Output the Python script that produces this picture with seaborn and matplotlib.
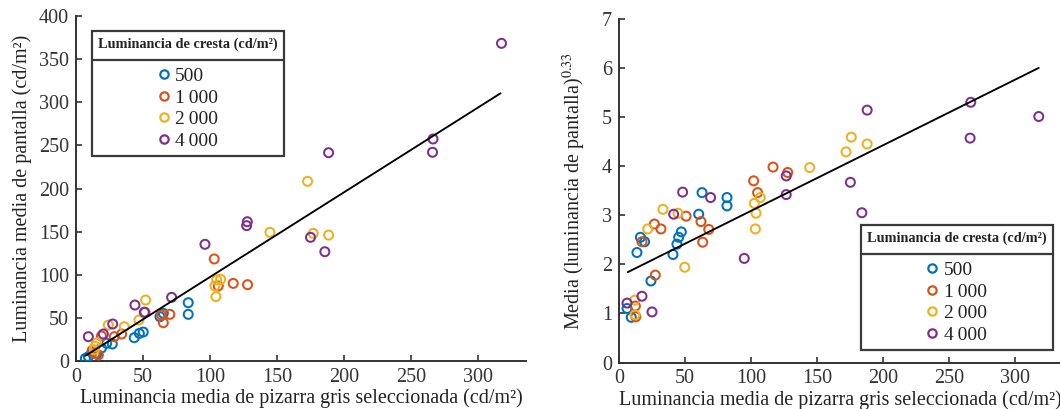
import numpy as np
import pandas as pd
import matplotlib
matplotlib.use("Agg")
import matplotlib.pyplot as plt
import seaborn as sns
from matplotlib.lines import Line2D

# ---------------- data ----------------
levels = ["500", "1\u2009000", "2\u2009000", "4\u2009000"]
colors = ["#0072BD", "#D95319", "#EDB120", "#7E2F8E"]

x_ticks = [0, 50, 100, 150, 200, 250, 300]
left_y_ticks = [0, 50, 100, 150, 200, 250, 300, 350, 400]
right_y_ticks = [0, 1, 2, 3, 4, 5, 6, 7]

# Left panel: mean screen luminance (cd/m2)
L_500_x = [7, 9.2, 12, 15.4, 19, 22.9, 27.1, 43.5, 47.3, 50.2, 62.7, 65.2, 83.8, 83.8]
L_500_y = [3, 5, 10, 8, 15, 20.5, 19.7, 27, 32, 33.6, 51.4, 55.3, 54.1, 67.6]
L_1000_x = [12, 14.2, 16.7, 19, 28.6, 34.1, 51.5, 63.9, 65.2, 70.1, 103.2, 106.2, 117.4, 128.1]
L_1000_y = [12, 8.9, 7, 29, 28.2, 31.3, 56.5, 53.3, 44.4, 54.1, 118.3, 87, 90, 88.5]
L_2000_x = [13.7, 14.2, 15.4, 24.1, 36, 47, 52, 103.7, 104.5, 105, 108, 144.8, 172.9, 177.1, 188.6]
L_2000_y = [13, 17, 21, 41.7, 39.8, 47.5, 70.7, 87, 74.6, 94, 94.7, 149.2, 208.3, 148, 146]
L_4000_x = [9.2, 20.4, 27.4, 44, 51, 71.4, 96.3, 127.4, 127.9, 175.1, 185.8, 188.6, 266.2, 266.6, 317.7]
L_4000_y = [28.2, 31.3, 42.9, 64.9, 56.5, 73.8, 135.3, 156.9, 161.5, 143.4, 126.7, 241.5, 242, 257.4, 368.3]
L_fit_x = [7, 317]
L_fit_y = [6, 310.4]

# Right panel: mean (screen luminance)^0.33
R_500_x = [6.1, 9.3, 13.6, 16.2, 19.4, 24.2, 40.9, 43.9, 45.2, 47.2, 60.4, 62.9, 81.8, 81.8]
R_500_y = [1.10, 0.92, 2.24, 2.55, 2.46, 1.66, 2.20, 2.41, 2.55, 2.66, 3.02, 3.46, 3.36, 3.19]
R_1000_x = [12.4, 12.7, 17.4, 26.8, 31.8, 27.5, 50.8, 62.1, 63.4, 68, 102, 105, 116.7, 127.8]
R_1000_y = [1.15, 0.93, 2.46, 2.82, 2.72, 1.78, 2.98, 2.87, 2.45, 2.71, 3.70, 3.46, 3.98, 3.87]
R_2000_x = [11.9, 12.1, 21.7, 33.3, 44.7, 49.8, 102.5, 107, 103.8, 103.3, 144.5, 172, 176, 188]
R_2000_y = [1.27, 0.97, 2.72, 3.12, 3.04, 1.94, 3.24, 3.36, 3.04, 2.72, 3.97, 4.29, 4.59, 4.45]
R_4000_x = [6.1, 17.4, 25, 41.4, 48.2, 69.4, 94.9, 126.7, 126.7, 175.3, 184, 188, 266.5, 266, 318]
R_4000_y = [1.21, 1.35, 1.03, 3.02, 3.47, 3.36, 2.12, 3.80, 3.42, 3.67, 3.05, 5.14, 5.30, 4.57, 5.01]
R_fit_x = [6.6, 318]
R_fit_y = [1.84, 6.0]

xlabel = "Luminancia media de pizarra gris seleccionada (cd/m\u00b2)"
left_ylabel = "Luminancia media de pantalla (cd/m\u00b2)"
right_ylabel = r"Media (luminancia de pantalla)$^{0.33}$"
legend_title = "Luminancia de cresta (cd/m\u00b2)"


def frame(xs, ys):
    rows = []
    for lev, x, y in zip(levels, xs, ys):
        for a, b in zip(x, y):
            rows.append({"x": a, "y": b, "level": lev})
    return pd.DataFrame(rows)


left_df = frame([L_500_x, L_1000_x, L_2000_x, L_4000_x], [L_500_y, L_1000_y, L_2000_y, L_4000_y])
right_df = frame([R_500_x, R_1000_x, R_2000_x, R_4000_x], [R_500_y, R_1000_y, R_2000_y, R_4000_y])

# ---------------- style ----------------
sns.set_style("ticks")
plt.rcParams["font.family"] = ["Liberation Serif", "DejaVu Serif"]
plt.rcParams["mathtext.fontset"] = "stix"
plt.rcParams["axes.edgecolor"] = "#333333"
plt.rcParams["xtick.color"] = "#333333"
plt.rcParams["ytick.color"] = "#333333"
plt.rcParams["text.color"] = "#222222"
plt.rcParams["axes.labelcolor"] = "#222222"

TXT = 14.5
fig = plt.figure(figsize=(10.6, 4.09), dpi=100)
axL = fig.add_axes([76 / 1060, 48 / 409, 450 / 1060, 345 / 409])
axR = fig.add_axes([619 / 1060, 46.5 / 409, 443.5 / 1060, 343.7 / 409])

palette = dict(zip(levels, colors))


def draw(ax, df, fx, fy, ylim, yticks, ylabel, ypad):
    sns.scatterplot(data=df, x="x", y="y", hue="level", hue_order=levels, palette=palette,
                    s=42, linewidth=1.45, ax=ax, legend=False, zorder=3)
    pc = ax.collections[-1]
    fc = pc.get_facecolors()
    pc.set_edgecolors(fc)
    pc.set_facecolors("none")
    sns.lineplot(x=fx, y=fy, color="black", linewidth=1.35, ax=ax, zorder=4)
    ax.set_xlim(0, 336)
    ax.set_ylim(*ylim)
    ax.set_xticks(x_ticks)
    ax.set_yticks(yticks)
    ax.tick_params(direction="in", length=4, width=1.2, labelsize=TXT, pad=5)
    for sp in ["top", "right"]:
        ax.spines[sp].set_visible(False)
    for sp in ["left", "bottom"]:
        ax.spines[sp].set_linewidth(1.4)
    ax.set_xlabel(xlabel, fontsize=TXT, labelpad=1)
    ax.set_ylabel(ylabel, fontsize=TXT, labelpad=ypad)


draw(axL, left_df, L_fit_x, L_fit_y, (0, 400), left_y_ticks, left_ylabel, 5)
draw(axR, right_df, R_fit_x, R_fit_y, (0, 7), right_y_ticks, right_ylabel, 10)


def make_legend(ax, loc, anchor):
    handles = [Line2D([], [], ls="none", marker="o", ms=6, mfc="none", mec=c, mew=1.6) for c in colors]
    leg = ax.legend(handles, levels, title=legend_title, loc=loc, bbox_to_anchor=anchor,
                    borderaxespad=0, frameon=True, fancybox=False, edgecolor="#3a3a3a",
                    framealpha=1, fontsize=14,
                    title_fontproperties={"weight": "bold", "size": 10.3},
                    handlelength=0.55, handletextpad=0.3, labelspacing=0.2,
                    borderpad=0.33, alignment="center")
    leg.get_frame().set_linewidth(1.6)
    leg._legend_box.sep = 12
    return leg


legL = make_legend(axL, "upper left", (0.0356, 0.9565))
legR = make_legend(axR, "lower right", (0.9786, 0.0364))

fig.canvas.draw()
renderer = fig.canvas.get_renderer()
inv = fig.transFigure.inverted()
for leg in (legL, legR):
    fb = leg.get_frame().get_window_extent(renderer)
    tb = leg.get_title().get_window_extent(renderer)
    yline = tb.y0 - 9
    p0 = inv.transform((fb.x0, yline))
    p1 = inv.transform((fb.x1, yline))
    fig.add_artist(Line2D([p0[0], p1[0]], [p0[1], p1[1]], transform=fig.transFigure,
                          color="#3a3a3a", linewidth=1.6, zorder=10))

fig.savefig("out.png", dpi=100, facecolor="white")
